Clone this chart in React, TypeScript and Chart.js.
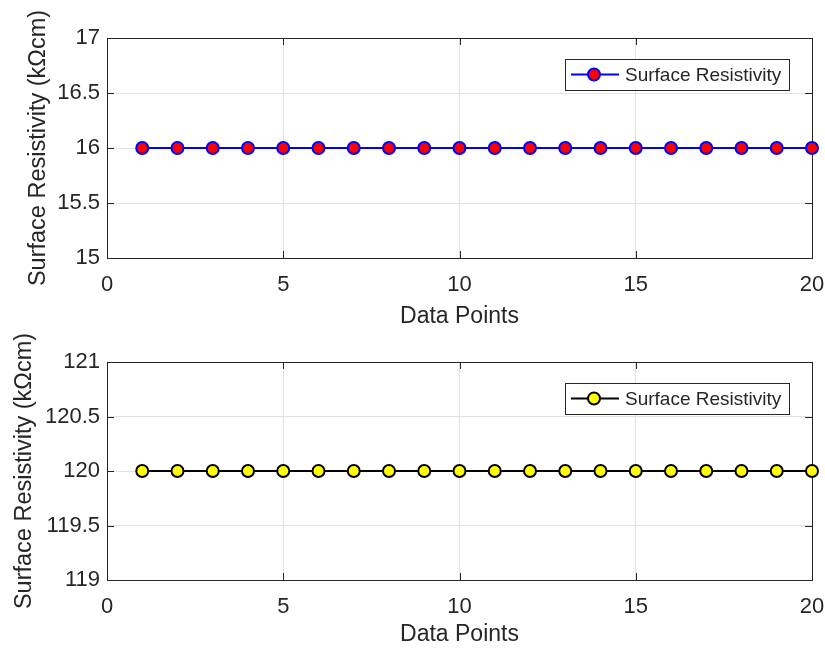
import React, { useEffect, useRef } from "react";
import { Chart, registerables } from "chart.js";

Chart.register(...registerables);

const dataPoints = [1, 2, 3, 4, 5, 6, 7, 8, 9, 10, 11, 12, 13, 14, 15, 16, 17, 18, 19, 20];
const topResistivity = [16, 16, 16, 16, 16, 16, 16, 16, 16, 16, 16, 16, 16, 16, 16, 16, 16, 16, 16, 16];
const bottomResistivity = [120, 120, 120, 120, 120, 120, 120, 120, 120, 120, 120, 120, 120, 120, 120, 120, 120, 120, 120, 120];
const xTicks = [0, 5, 10, 15, 20];
const topYTicks = [15, 15.5, 16, 16.5, 17];
const bottomYTicks = [119, 119.5, 120, 120.5, 121];
const seriesLabel = "Surface Resistivity";
const xTitle = "Data Points";
const yTitle = "Surface Resistivity (kΩcm)";

const FONT = "'Liberation Sans', Arial, Helvetica, sans-serif";
const TEXT = "#262626";
const GRID = "#e2e2e2";

const framePlugin = {
  id: "frame",
  beforeDatasetsDraw(chart: any) {
    const { ctx, chartArea } = chart;
    const { left, right, top, bottom } = chartArea;
    const tl = 7;
    ctx.save();
    ctx.strokeStyle = TEXT;
    ctx.lineWidth = 1;
    ctx.beginPath();
    const xs = chart.scales.x;
    xs.ticks.forEach((t: any) => {
      const px = Math.round(xs.getPixelForValue(t.value)) + 0.5;
      ctx.moveTo(px, bottom);
      ctx.lineTo(px, bottom - tl);
      ctx.moveTo(px, top);
      ctx.lineTo(px, top + tl);
    });
    const ys = chart.scales.y;
    ys.ticks.forEach((t: any) => {
      const py = Math.round(ys.getPixelForValue(t.value)) + 0.5;
      ctx.moveTo(left, py);
      ctx.lineTo(left + tl, py);
      ctx.moveTo(right, py);
      ctx.lineTo(right - tl, py);
    });
    ctx.stroke();
    ctx.strokeRect(Math.round(left) + 0.5, Math.round(top) + 0.5, Math.round(right - left), Math.round(bottom - top));
    ctx.restore();
  },
};

const legendPlugin = {
  id: "boxLegend",
  afterDraw(chart: any) {
    const { ctx, chartArea } = chart;
    const ds = chart.data.datasets[0];
    ctx.save();
    ctx.font = `19px ${FONT}`;
    const tw = ctx.measureText(ds.label).width;
    const w = Math.round(60 + tw + 8);
    const h = 31;
    const x0 = Math.round(chartArea.right - 23 - w);
    const y0 = Math.round(chartArea.top + 21);
    ctx.fillStyle = "#ffffff";
    ctx.fillRect(x0, y0, w, h);
    ctx.strokeStyle = TEXT;
    ctx.lineWidth = 1;
    ctx.strokeRect(x0 + 0.5, y0 + 0.5, w, h);
    const cy = y0 + h / 2;
    ctx.strokeStyle = ds.borderColor;
    ctx.lineWidth = ds.borderWidth;
    ctx.beginPath();
    ctx.moveTo(x0 + 6, cy);
    ctx.lineTo(x0 + 54, cy);
    ctx.stroke();
    ctx.beginPath();
    ctx.arc(x0 + 29, cy, ds.pointRadius, 0, Math.PI * 2);
    ctx.fillStyle = ds.pointBackgroundColor;
    ctx.fill();
    ctx.strokeStyle = ds.pointBorderColor;
    ctx.lineWidth = ds.pointBorderWidth;
    ctx.stroke();
    ctx.fillStyle = TEXT;
    ctx.textBaseline = "middle";
    ctx.textAlign = "left";
    ctx.fillText(ds.label, x0 + 60, cy + 1);
    ctx.restore();
  },
};

function makeConfig(
  values: number[],
  yTicks: number[],
  lineColor: string,
  fillColor: string,
  padTop: number,
  xAxisH: number,
  xTitlePad: number,
  yTitlePad: number
) {
  return {
    type: "line" as const,
    data: {
      datasets: [
        {
          label: seriesLabel,
          data: dataPoints.map((x, i) => ({ x, y: values[i] })),
          borderColor: lineColor,
          borderWidth: 2,
          pointRadius: 6,
          pointBackgroundColor: fillColor,
          pointBorderColor: lineColor,
          pointBorderWidth: 2,
          pointHoverRadius: 6,
          fill: false,
          tension: 0,
          clip: false,
        },
      ],
    },
    options: {
      responsive: false,
      animation: false,
      events: [],
      layout: { padding: { top: padTop, right: 13, left: 0, bottom: 0 } },
      plugins: { legend: { display: false }, tooltip: { enabled: false } },
      scales: {
        x: {
          type: "linear",
          min: xTicks[0],
          max: xTicks[xTicks.length - 1],
          afterBuildTicks: (s: any) => {
            s.ticks = xTicks.map((v) => ({ value: v }));
          },
          afterFit: (s: any) => {
            s.height = xAxisH;
            s.paddingLeft = 0;
            s.paddingRight = 0;
          },
          grid: { color: GRID, drawTicks: false, lineWidth: 1 },
          border: { display: false },
          ticks: {
            padding: 14,
            color: TEXT,
            font: { family: FONT, size: 22 },
            maxRotation: 0,
            callback: (v: any) => String(v),
          },
          title: {
            display: true,
            text: xTitle,
            color: TEXT,
            font: { family: FONT, size: 23 },
            padding: { top: 0, bottom: xTitlePad },
          },
        },
        y: {
          type: "linear",
          min: yTicks[0],
          max: yTicks[yTicks.length - 1],
          afterBuildTicks: (s: any) => {
            s.ticks = yTicks.map((v) => ({ value: v }));
          },
          afterFit: (s: any) => {
            s.width = 107;
            s.paddingTop = 0;
            s.paddingBottom = 0;
          },
          grid: { color: GRID, drawTicks: false, lineWidth: 1 },
          border: { display: false },
          ticks: {
            padding: 7,
            color: TEXT,
            font: { family: FONT, size: 22 },
            callback: (v: any) => String(v),
          },
          title: {
            display: true,
            text: yTitle,
            color: TEXT,
            font: { family: FONT, size: 23.5 },
            padding: { top: yTitlePad, bottom: 0 },
          },
        },
      },
    },
    plugins: [framePlugin, legendPlugin],
  };
}

export default function App() {
  const topRef = useRef<HTMLCanvasElement>(null);
  const botRef = useRef<HTMLCanvasElement>(null);

  useEffect(() => {
    const c1 = new Chart(
      topRef.current as any,
      makeConfig(topResistivity, topYTicks, "#0000ff", "#ff0000", 38, 72, 0, 24) as any
    );
    const c2 = new Chart(
      botRef.current as any,
      makeConfig(bottomResistivity, bottomYTicks, "#000000", "#ffff00", 32, 70, 1.2, 10) as any
    );
    return () => {
      c1.destroy();
      c2.destroy();
    };
  }, []);

  return (
    <div style={{ position: "absolute", left: 0, top: 0, width: 825, height: 650, background: "#ffffff" }}>
      <canvas ref={topRef} width={825} height={330} style={{ display: "block", width: 825, height: 330 }} />
      <canvas ref={botRef} width={825} height={320} style={{ display: "block", width: 825, height: 320 }} />
    </div>
  );
}
